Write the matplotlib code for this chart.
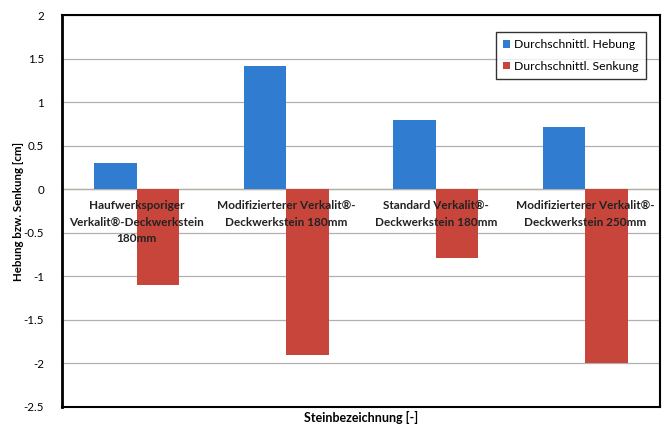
import matplotlib
matplotlib.use("Agg")
import matplotlib.pyplot as plt
import numpy as np

categories = [
    "Haufwerksporiger\nVerkalit®-Deckwerkstein\n180mm",
    "Modifizierterer Verkalit®-\nDeckwerkstein 180mm",
    "Standard Verkalit®-\nDeckwerkstein 180mm",
    "Modifizierterer Verkalit®-\nDeckwerkstein 250mm",
]
hebung = [0.3, 1.41, 0.8, 0.71]
senkung = [-1.1, -1.9, -0.79, -2.0]
series_names = ["Durchschnittl. Hebung", "Durchschnittl. Senkung"]
yticks = [2, 1.5, 1, 0.5, 0, -0.5, -1, -1.5, -2, -2.5]

plt.rcParams['font.family'] = ['Lato', 'DejaVu Sans']

fig = plt.figure(figsize=(6.63, 4.25), dpi=100)
ax = fig.add_axes([0.0935, 0.0424, 0.902, 0.9223])

x = np.arange(len(categories))
w = 1 / 3.5
blue = "#2f7cd0"
red = "#c7453b"
ax.bar(x - w / 2, hebung, w, color=blue, label=series_names[0], zorder=2)
ax.bar(x + w / 2, senkung, w, color=red, label=series_names[1], zorder=2)

ax.set_xlim(-0.5, len(categories) - 0.5)
ax.set_ylim(-2.5, 2)
ax.set_yticks(yticks)
ax.set_yticklabels([f"{t:g}" for t in yticks], fontsize=8.3)
ax.grid(axis="y", color="#b0b0b0", linewidth=0.9, zorder=0)
ax.axhline(0, color="#c8c090", linewidth=1.0, zorder=1)
ax.set_xticks([])
ax.tick_params(axis="y", length=0, pad=13)
for s in ax.spines.values():
    s.set_color("black")
    s.set_linewidth(1.5)
ax.spines["left"].set_linewidth(2.0)

for xi, lab in zip(x, categories):
    ax.text(xi, -0.12, lab, ha="center", va="top", fontsize=8.5,
            fontweight="bold", color="#222222", linespacing=1.65, zorder=3)

ax.set_ylabel("Hebung bzw. Senkung [cm]", fontsize=8.3, fontweight="bold")
ax.yaxis.set_label_coords(-0.063, 0.5)
ax.set_xlabel("Steinbezeichnung [-]", fontsize=9, fontweight="bold", labelpad=4)
ax.xaxis.set_label_coords(0.5, -0.01)
ax.xaxis.label.set_va("top")

leg = ax.legend(loc="upper right", bbox_to_anchor=(0.977, 0.957), fontsize=8.8,
                frameon=True, fancybox=False, handlelength=0.55, handleheight=0.55,
                handletextpad=0.35, borderpad=0.6, labelspacing=0.85, borderaxespad=0)
leg.get_frame().set_edgecolor("black")
leg.get_frame().set_linewidth(1.0)

fig.savefig("out.png", dpi=100)
